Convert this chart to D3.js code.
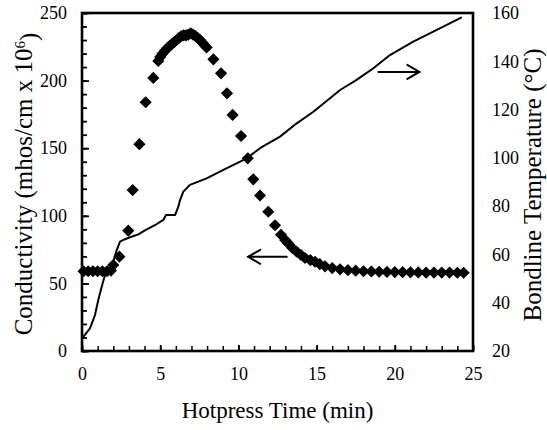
<!DOCTYPE html>
<html>
<head>
<meta charset="utf-8">
<script src="https://cdn.jsdelivr.net/npm/d3@7"></script>
<style>
  html, body { margin: 0; padding: 0; background: #fff; }
  svg { display: block; }
  text { font-family: "Liberation Serif", "Times New Roman", serif; fill: #000; }
</style>
</head>
<body>
<svg id="chart" width="547" height="430"></svg>
<script>
// ---- data ----
const condTime = [0.1,0.4,0.7,1.0,1.3,1.6,1.85,2.0,2.39,2.96,3.24,3.67,4.07,4.56,4.88,
  5.0,5.15,5.3,5.45,5.6,5.75,5.9,6.05,6.2,6.35,6.5,6.65,6.8,6.95,7.1,7.25,7.4,7.55,7.7,7.85,7.97,
  8.4,8.89,9.27,9.63,10.17,10.6,10.95,11.38,11.91,12.34,12.72,13.0,13.19,13.45,13.73,14.0,14.26,
  14.6,14.9,15.2,15.54,16.0,16.5,17.0,17.5,18.0,18.5,19.0,19.5,20.0,20.5,21.0,21.5,22.0,22.5,
  23.0,23.5,24.0,24.4];
const condValue = [59,59,59,59,59,59,59.5,63.6,69.8,89,119,153,184,202,214.5,
  217.5,220,222,224,225.5,227,228.5,230,231.5,233,233.5,233.5,234,235,234,233,231.5,230,228,226,224.5,
  215.7,205.4,190.6,174.6,159,142.5,127,115,103,93,86,82,79.6,76.2,73.4,71,68.8,
  67.2,66,64.3,62.6,61.3,60.4,59.8,59.4,59,58.8,58.6,58.5,58.4,58.3,58.2,58.1,58,58,
  58,58,57.9,57.9];

const tempTime = [0.08,0.51,0.83,1.04,1.26,1.47,1.79,2.0,2.22,2.43,2.75,3.07,3.6,4.14,4.78,5.2,
  5.37,5.95,6.16,6.27,6.48,6.9,7.97,9.04,10.53,11.38,12.66,13.73,14.79,15.86,16.5,17.56,18.63,
  19.69,21.18,22.46,24.28];
const tempValue = [25.9,29.4,34.9,41.1,46.6,51.5,54.3,57,61.8,65.3,66.3,67.1,68.3,70.4,72.6,74.3,
  76.3,76.3,79.8,82.5,86,88.8,91.5,95,99.8,104,108.8,114.3,119.1,124.7,128.1,132.3,137.1,
  142.6,148.1,152.3,158.2];

const xTicks = [0,5,10,15,20,25];
const yLeftTicks = [0,50,100,150,200,250];
const yRightTicks = [20,40,60,80,100,120,140,160];

// arrows: [tStart, tEnd, value, axis]  (arrow head at tEnd)
const arrowTemp = [18.95, 21.57, 135.6];   // points right, at temperature value
const arrowCond = [13.09, 10.63, 69.7];    // points left, at conductivity value

const xTitle = "Hotpress Time (min)";
const yLeftTitle = "Conductivity (mhos/cm x 10";
const yRightTitle = "Bondline Temperature (\u00B0C)";

// ---- layout ----
const L = 82, R = 473, T = 13, B = 351;
const svg = d3.select("#chart");

const x = d3.scaleLinear().domain([0,25]).range([L,R]);
const yL = d3.scaleLinear().domain([0,250]).range([B,T]);
const yR = d3.scaleLinear().domain([20,160]).range([B,T]);

// minor ticks
svg.append("g").attr("transform",`translate(0,${B})`)
  .call(d3.axisBottom(x).tickValues(d3.range(0,26,1)).tickSize(-5).tickFormat(""))
  .call(g=>g.select(".domain").remove())
  .call(g=>g.selectAll("line").attr("stroke","#000").attr("stroke-width",1.5));
svg.append("g").attr("transform",`translate(${L},0)`)
  .call(d3.axisLeft(yL).tickValues(d3.range(0,251,10)).tickSize(-5).tickFormat(""))
  .call(g=>g.select(".domain").remove())
  .call(g=>g.selectAll("line").attr("stroke","#000").attr("stroke-width",1.8));

// major axes with labels
const fs = 18;
svg.append("g").attr("transform",`translate(0,${B})`)
  .call(d3.axisBottom(x).tickValues(xTicks).tickSize(-6).tickPadding(16).tickFormat(d3.format("d")))
  .call(g=>g.select(".domain").remove())
  .call(g=>g.selectAll("line").attr("stroke","#000").attr("stroke-width",1.8))
  .call(g=>g.selectAll("text").style("font-size",fs+"px").style("font-family","Liberation Serif"));
svg.append("g").attr("transform",`translate(${L},0)`)
  .call(d3.axisLeft(yL).tickValues(yLeftTicks).tickSize(-7).tickPadding(15).tickFormat(d3.format("d")))
  .call(g=>g.select(".domain").remove())
  .call(g=>g.selectAll("line").attr("stroke","#000").attr("stroke-width",1.8))
  .call(g=>g.selectAll("text").style("font-size",fs+"px").style("font-family","Liberation Serif"));
svg.append("g").attr("transform",`translate(${R},0)`)
  .call(d3.axisRight(yR).tickValues(yRightTicks).tickSize(0).tickPadding(19).tickFormat(d3.format("d")))
  .call(g=>g.select(".domain").remove())
  .call(g=>g.selectAll("text").style("font-size",fs+"px").style("font-family","Liberation Serif"));

// frame
svg.append("rect").attr("x",L).attr("y",T).attr("width",R-L).attr("height",B-T)
  .attr("fill","none").attr("stroke","#000").attr("stroke-width",2.6);

// temperature line
const tempData = tempTime.map((t,i)=>[t,tempValue[i]]);
svg.append("path").datum(tempData)
  .attr("fill","none").attr("stroke","#000").attr("stroke-width",2)
  .attr("stroke-linejoin","round")
  .attr("d", d3.line().x(d=>x(d[0])).y(d=>yR(d[1])));

// conductivity diamonds
const condData = condTime.map((t,i)=>[t,condValue[i]]);
const sym = d3.symbol().type(d3.symbolSquare).size(74);
svg.append("g").selectAll("path").data(condData).join("path")
  .attr("d", sym)
  .attr("transform", d=>`translate(${x(d[0])},${yL(d[1])}) rotate(45)`)
  .attr("fill","#000");

// arrows
function arrow(x1, x2, yy) {
  const g = svg.append("g").attr("stroke","#000").attr("stroke-width",2).attr("fill","none")
    .attr("stroke-linecap","round");
  g.append("line").attr("x1",x1).attr("y1",yy).attr("x2",x2).attr("y2",yy);
  const dir = Math.sign(x2 - x1);
  g.append("path").attr("d",`M${x2-dir*12},${yy-7} L${x2},${yy} L${x2-dir*12},${yy+7}`);
}
arrow(x(arrowTemp[0]), x(arrowTemp[1]), yR(arrowTemp[2]));
arrow(x(arrowCond[0]), x(arrowCond[1]), yL(arrowCond[2]));

// titles
svg.append("text").attr("x",(L+R)/2).attr("y",418).attr("text-anchor","middle")
  .style("font-size","23px").text(xTitle);

const lt = svg.append("text").attr("transform",`translate(32,${(T+B)/2 + 2}) rotate(-90)`)
  .attr("text-anchor","middle").style("font-size","25px");
lt.append("tspan").text(yLeftTitle);
lt.append("tspan").attr("dy","-0.45em").style("font-size","15px").text("6");
lt.append("tspan").attr("dy","0.45em").text(")");

svg.append("text").attr("transform",`translate(541,${(T+B)/2 + 3}) rotate(-90)`)
  .attr("text-anchor","middle").style("font-size","25px").text(yRightTitle);
</script>
</body>
</html>
